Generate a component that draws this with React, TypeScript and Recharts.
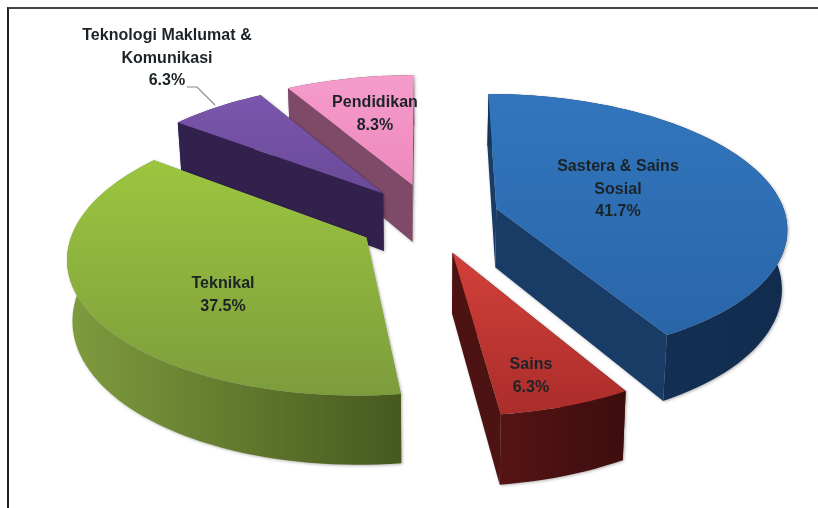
import React from "react";
import { PieChart, Pie } from "recharts";

const categories = ["Pendidikan", "Teknologi Maklumat & Komunikasi", "Teknikal", "Sains", "Sastera & Sains Sosial"];
const shares = [8.3, 6.3, 37.5, 6.3, 41.7];
const labelLines = [["Pendidikan", "8.3%"], ["Teknologi Maklumat &", "Komunikasi", "6.3%"], ["Teknikal", "37.5%"], ["Sains", "6.3%"], ["Sastera & Sains", "Sosial", "41.7%"]];
const explodeU = [-0.052, -0.155, -0.205, 0.085, 0.241];
const explodeV = [-0.26, -0.19, 0.145, 0.255, -0.07];
const topLight = ["#f59ccb", "#7b56ad", "#9cc63f", "#d2403a", "#3176bd"];
const topDark = ["#ee88bd", "#6a4a98", "#7c9c3c", "#ab2d2a", "#2a65a9"];
const wallFill = ["#7e4a68", "#32214d", "#83a03f", "#4d1212", "#193c66"];
const rimLeft = ["#85506f", "#35234f", "#7f9c3e", "#561414", "#15345a"];
const rimRight = ["#6f3f5b", "#2d1c45", "#46591f", "#3d0d0d", "#112c4e"];
const labelOffsets = [[-52, -111], [-260, -178], [-204, 70], [104, 151], [191, -47]];

const CX = 427;
const CY = 218;
const RADIUS = 290;
const TILT = 0.455;
const PERSP = 0.13;
const DEPTH = 59;
const BASE_SHRINK = 0.985;

const rows = categories.map((name, i) => ({ name, value: shares[i] }));

function project(cx: number, cy: number, R: number, u: number, v: number) {
  const s = 1 / (1 - PERSP * v);
  return { x: cx + R * u * s, y: cy + R * TILT * v * s, s };
}

function pathOf(points: { x: number; y: number }[]) {
  return points.map((p, i) => `${i ? "L" : "M"}${p.x.toFixed(1)},${p.y.toFixed(1)}`).join("") + "Z";
}

function Slice3D(props: any) {
  const { cx, cy, outerRadius: R, startAngle, endAngle, name } = props;
  const i = categories.indexOf(name);
  const a = 90 - Math.max(startAngle, endAngle);
  const b = 90 - Math.min(startAngle, endAngle);
  const t1 = (a * Math.PI) / 180;
  const t2 = (b * Math.PI) / 180;
  const at = (t: number, r = 1) => project(cx, cy, R, explodeU[i] + r * Math.sin(t), explodeV[i] - r * Math.cos(t));
  const down = (p: { x: number; y: number; s: number }) => ({ x: cx + (p.x - cx) * BASE_SHRINK, y: p.y + DEPTH * p.s, s: p.s });
  const apex = at(t1, 0);
  const arc: any[] = [];
  const steps = Math.max(4, Math.ceil(((t2 - t1) * 180) / Math.PI / 2));
  for (let k = 0; k <= steps; k++) arc.push(at(t1 + ((t2 - t1) * k) / steps));
  const wallStart = pathOf([apex, arc[0], down(arc[0]), down(apex)]);
  const wallEnd = pathOf([apex, arc[steps], down(arc[steps]), down(apex)]);
  const startVisible = -Math.sin(t1) > 0;
  const endVisible = Math.sin(t2) > 0;
  const rim = pathOf([...arc, ...arc.slice().reverse().map(down)]);
  const top = pathOf([apex, ...arc]);
  return (
    <g style={{ filter: "drop-shadow(1.5px 1.5px 1.5px rgba(0,0,0,0.3))" }}>
      {!startVisible && <path d={wallStart} fill={wallFill[i]} />}
      {!endVisible && <path d={wallEnd} fill={wallFill[i]} />}
      <path d={rim} fill={`url(#side${i})`} />
      {startVisible && <path d={wallStart} fill={wallFill[i]} />}
      {endVisible && <path d={wallEnd} fill={wallFill[i]} />}
      <path d={top} fill={`url(#top${i})`} />
    </g>
  );
}

function SliceLabel(props: any) {
  const i = props.index;
  const [dx, dy] = labelOffsets[i];
  const x = CX + dx;
  const y = CY + dy;
  return (
    <g>
      {i === 1 && <polyline points={`${x + 20},${y + 47} ${x + 30},${y + 47} ${x + 48},${y + 65}`} fill="none" stroke="#8a8a8a" strokeWidth={1.2} />}
      <text x={x} y={y} textAnchor="middle" fontFamily="Liberation Sans, Arial, sans-serif" fontWeight={700} fontSize={16} letterSpacing={0.05} fill="#1b2326">
        {labelLines[i].map((line, k) => (
          <tspan key={k} x={x} dy={k === 0 ? 0 : 22.5}>{line}</tspan>
        ))}
      </text>
    </g>
  );
}

export default function App() {
  return (
    <div style={{ position: "absolute", left: 0, top: 0, width: 818, height: 508, background: "#fff", overflow: "hidden" }}>
      <div style={{ position: "absolute", left: 7, top: 7, width: 811, height: 600, borderTop: "2px solid #444", borderLeft: "2px solid #222", boxSizing: "border-box" }} />
      <div style={{ position: "absolute", left: 0, top: 0, filter: "blur(0.7px)" }}>
        <PieChart width={818} height={508} margin={{ top: 0, right: 0, bottom: 0, left: 0 }}>
          <defs>
            {categories.map((_, i) => (
              <linearGradient key={`t${i}`} id={`top${i}`} x1="0" y1="0" x2="0" y2="1">
                <stop offset="0" stopColor={topLight[i]} />
                <stop offset="1" stopColor={topDark[i]} />
              </linearGradient>
            ))}
            {categories.map((_, i) => (
              <linearGradient key={`s${i}`} id={`side${i}`} x1="0" y1="0" x2="1" y2="0">
                <stop offset="0" stopColor={rimLeft[i]} />
                <stop offset="1" stopColor={rimRight[i]} />
              </linearGradient>
            ))}
          </defs>
          <Pie
            data={rows}
            dataKey="value"
            nameKey="name"
            cx={CX}
            cy={CY}
            innerRadius={0}
            outerRadius={RADIUS}
            startAngle={90}
            endAngle={450}
            stroke="none"
            isAnimationActive={false}
            shape={Slice3D}
            label={SliceLabel}
            labelLine={false}
          />
        </PieChart>
      </div>
    </div>
  );
}
